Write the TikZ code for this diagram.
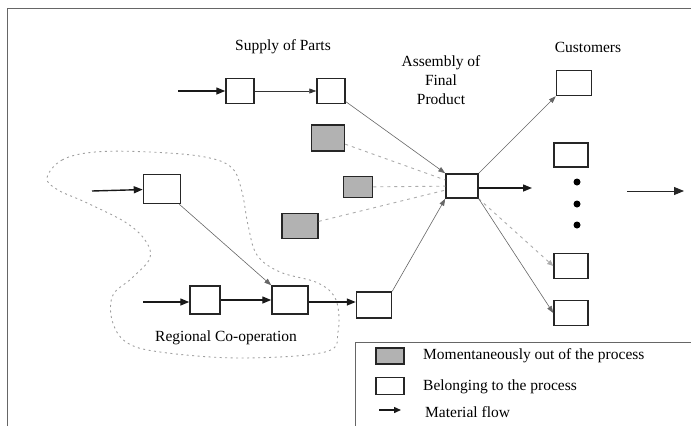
\documentclass[tikz,border=0pt]{standalone}
\usepackage{fontspec}
\setmainfont{Liberation Serif}
\usetikzlibrary{arrows.meta}
\tikzset{partbox/.style 2 args={draw=black!85,line width=1.5pt,fill=white,inner sep=0pt,
           minimum width=#1pt,minimum height=#2pt},
         outbox/.style 2 args={partbox={#1}{#2},fill=gray!60},
         flow/.style={black!90,line width=1.4pt,-{Triangle[length=9pt,width=7pt]}},
         link/.style={black!60,line width=0.6pt,-{Triangle[length=7pt,width=5pt]}},
         offlink/.style={gray!65,line width=0.9pt,dash pattern=on 3pt off 4pt},
         blob/.style={gray!75,line width=0.9pt,dash pattern=on 2pt off 3.5pt},
         dot/.style={circle,fill=black,inner sep=0pt,minimum size=7pt},
         lbl/.style={font=\fontsize{15.5}{19}\selectfont,inner sep=0pt,align=center}}
\begin{document}
\begin{tikzpicture}[x=1pt,y=-1pt]
\useasboundingbox (0,0) rectangle (691,426);
\draw[black!60,line width=0.9pt] (7,426) -- (7,8) -- (691,8);
\node[lbl] (supplytext) at (283,47) {Supply of Parts};
\node[lbl] (assemblytext) at (441,80) {Assembly of\\Final\\Product};
\node[lbl] (customertext) at (588,47) {Customers};
\node[lbl] (regiontext) at (226,338) {Regional Co-operation};
\draw[blob] plot[smooth cycle,tension=0.6] coordinates {(47,178) (62,160) (95,152) (150,152)
  (205,157) (232,168) (242,192) (248,225) (257,255) (280,272) (318,283) (336,300) (338,332)
  (325,352) (240,358) (160,352) (126,342) (112,320) (113,295) (132,278) (150,258) (145,240)
  (125,222) (85,202) (58,190)};
\node[partbox={28}{25}] (s1) at (240,91) {};
\node[partbox={28}{25}] (s2) at (331,91) {};
\node[outbox={33}{26}] (g1) at (328,138) {};
\node[outbox={29}{21}] (g2) at (358,187) {};
\node[outbox={36}{25}] (g3) at (300,226) {};
\node[partbox={37}{29}] (r1) at (162,189) {};
\node[partbox={30}{28}] (b1) at (205,300) {};
\node[partbox={36}{28}] (b2) at (290,300) {};
\node[partbox={35}{26}] (b3) at (374,305) {};
\node[partbox={32}{24}] (c) at (462,186) {};
\node[partbox={35}{25}] (k1) at (574,83) {};
\node[partbox={34}{24}] (k2) at (571,155) {};
\node[partbox={34}{25}] (k3) at (571,266) {};
\node[partbox={34}{25}] (k4) at (571,313) {};
\foreach \y [count=\i] in {182,204,225}
  \node[dot] (dot\i) at (577,\y) {};
\coordinate (s0) at (178,91);
\coordinate (r0) at (92,191);
\coordinate (b0) at (143,302);
\coordinate (cout) at (532,188);
\coordinate (e0) at (627,191);
\coordinate (e1) at (684,191);
\draw[flow] (s0) -- (s1);
\draw[link,black!80] (s1) -- (s2);
\draw[flow] (r0) -- (r1);
\draw[flow] (b0) -- (b0 -| b1.west);
\draw[flow] (b1) -- (b2);
\draw[flow] (b2.east |- b0) -- (b3.west |- b0);
\draw[link] (r1) -- (b2.north west);
\draw[link] (s2) -- (c.north west);
\foreach \g in {g1,g2,g3}
  \draw[offlink] (\g) -- (c);
\draw[link] (b3.north east) -- (c.south west);
\draw[link] (c.north east) -- (k1.south west);
\draw[flow] (c.east |- cout) -- (cout);
\draw[offlink,-{Triangle[length=6pt,width=5pt]}] (c.south east) -- (k3.west);
\draw[link] (c.south east) -- (k4.west);
\draw[link,black!85,line width=0.9pt,-{Triangle[length=10pt,width=8pt]}] (e0) -- (e1);
\draw[black!60,line width=0.9pt] (691,342) -- (355,342) -- (355,426);
\node[outbox={28}{16}] (keyout) at (390,356) {};
\node[lbl,anchor=west] (keyouttext) at (423,356) {Momentaneously out of the process};
\node[partbox={28}{17}] (keyin) at (390,386) {};
\node[lbl,anchor=west] (keyintext) at (423,387) {Belonging to the process};
\coordinate (keyflow0) at (379,410);
\coordinate (keyflow1) at (401,410);
\draw[flow,-{Triangle[length=7pt,width=6pt]}] (keyflow0) -- (keyflow1);
\node[lbl,anchor=west] (keyflowtext) at (425,412) {Material flow};
\end{tikzpicture}
\end{document}
